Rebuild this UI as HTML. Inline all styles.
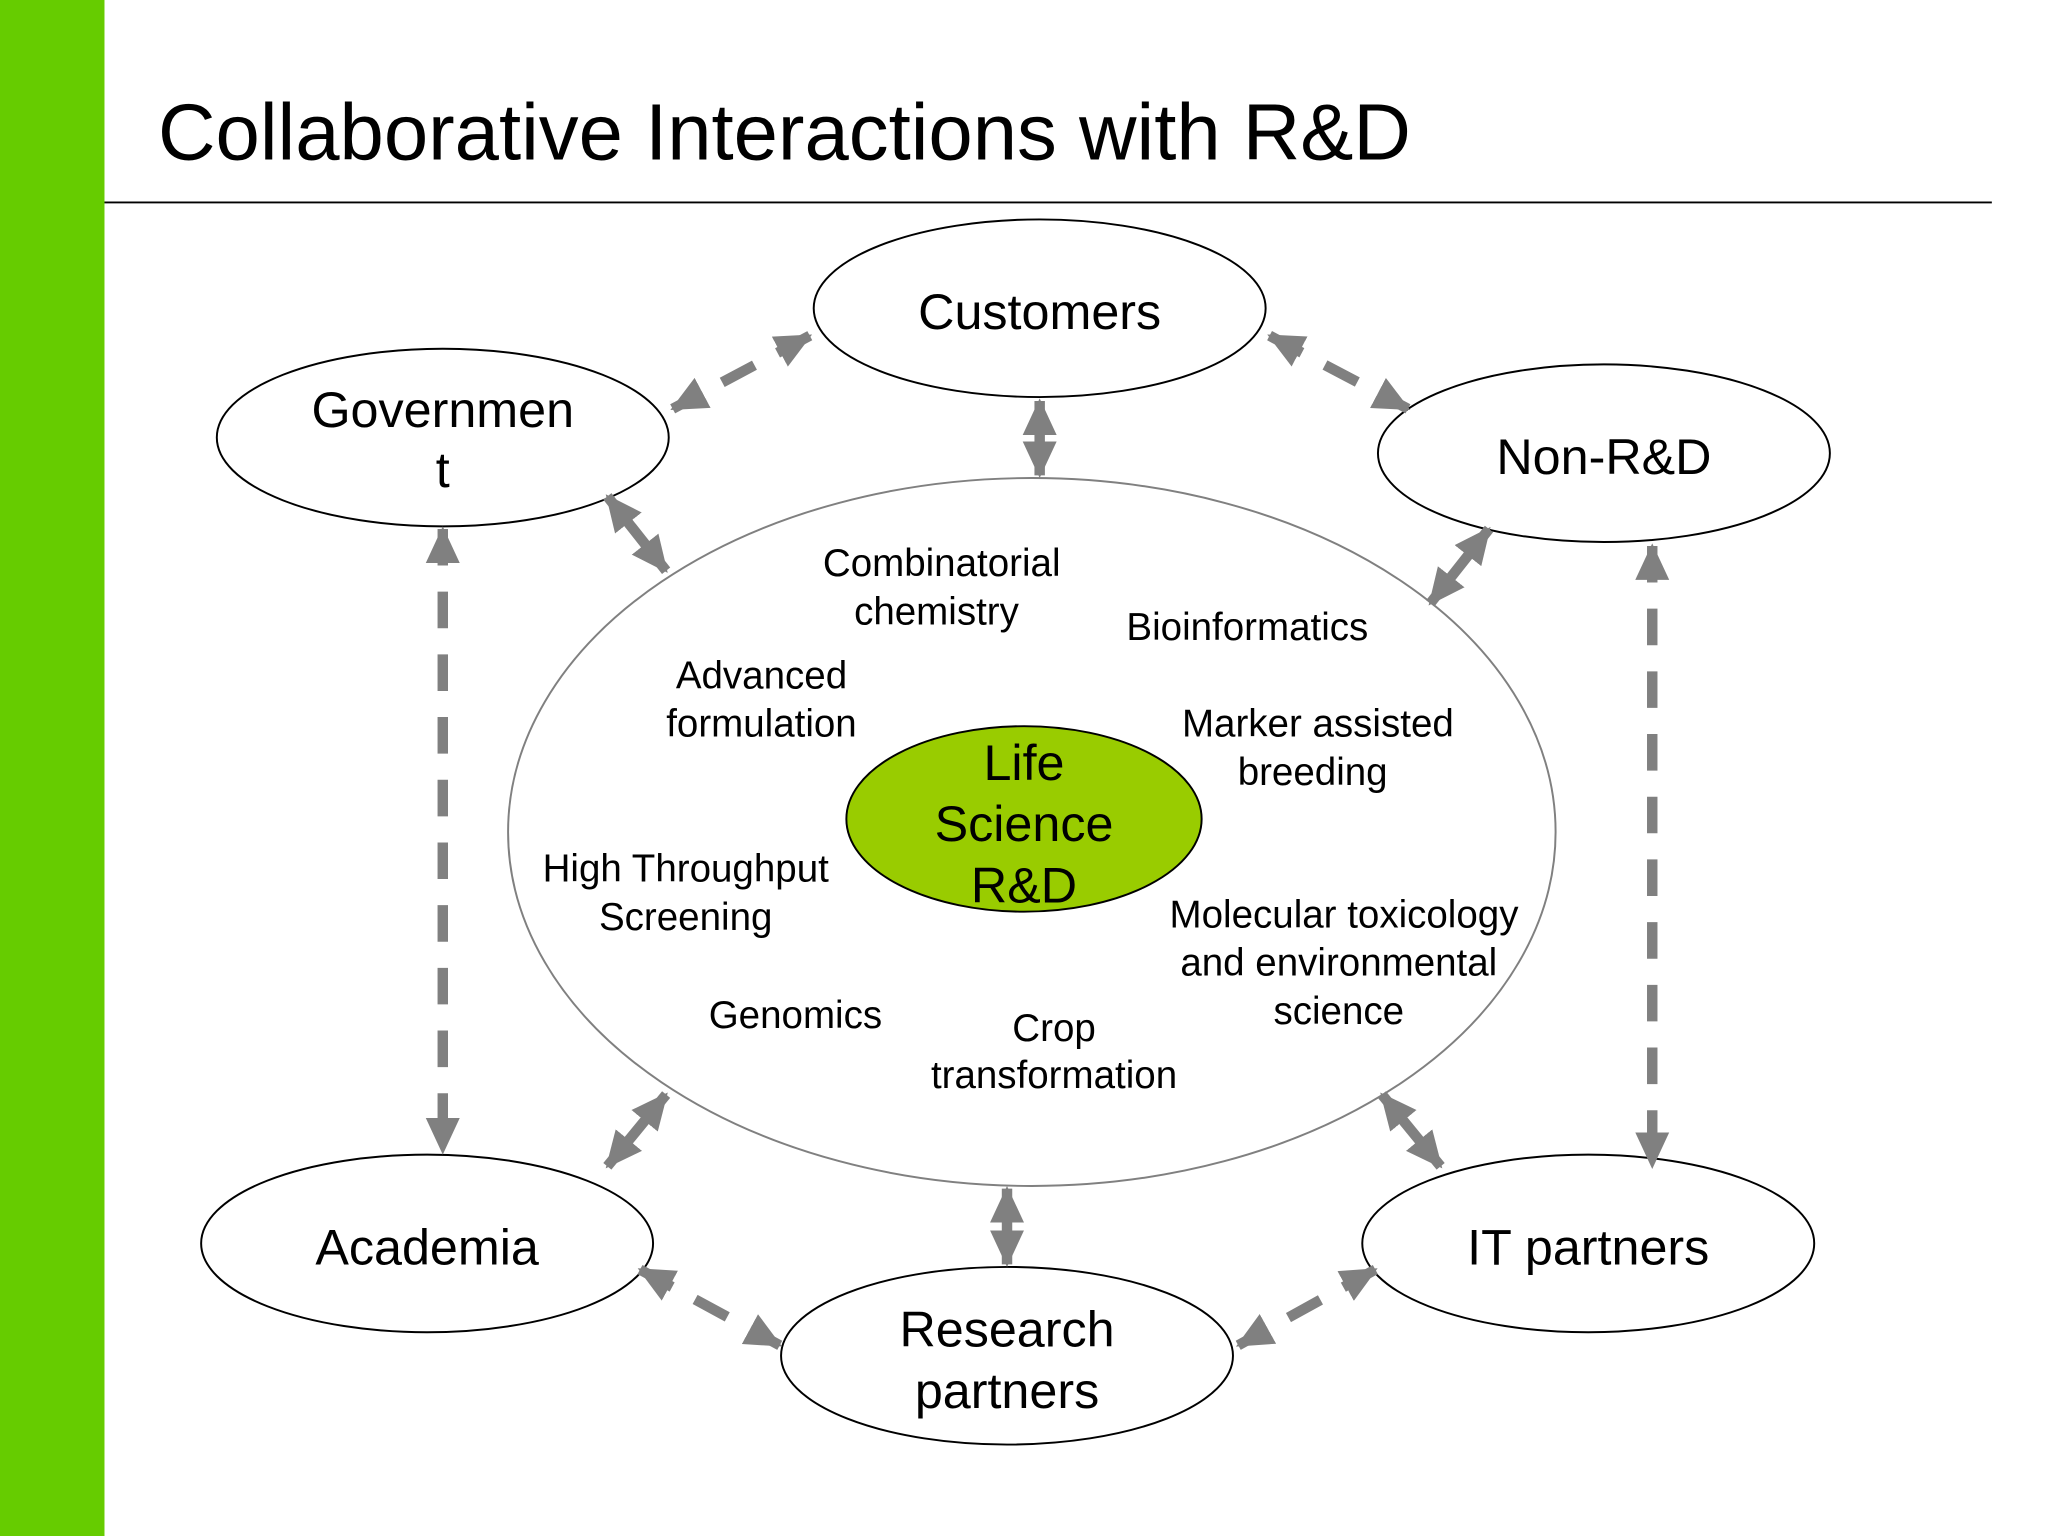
<!DOCTYPE html>
<html><head><meta charset="utf-8"><style>html,body{margin:0;padding:0;background:#fff}svg{display:block}</style></head>
<body>
<svg width="2048" height="1536" viewBox="0 0 1568 1176" preserveAspectRatio="none" xmlns="http://www.w3.org/2000/svg" font-family="Liberation Sans, sans-serif">
<defs>
<marker id="a" markerUnits="userSpaceOnUse" markerWidth="30" markerHeight="30" refX="26" refY="15" orient="auto-start-reverse" viewBox="0 0 30 30"><path d="M0,2 L28,15 L0,28 Z" fill="#808080"/></marker>
</defs>
<rect x="0" y="0" width="1568" height="1176" fill="#fff"/>
<rect x="0" y="0" width="80" height="1176" fill="#66cc00"/>
<text x="121" y="122" font-size="61" fill="#000">Collaborative Interactions with R&amp;D</text>
<line x1="80" y1="155" x2="1525" y2="155" stroke="#000" stroke-width="1.5"/>
<ellipse cx="790" cy="637" rx="401" ry="271" fill="none" stroke="#808080" stroke-width="1.5"/>
<ellipse cx="784" cy="627" rx="136" ry="71" fill="#99cc00" stroke="#000" stroke-width="1.5"/>
<g fill="#fff" stroke="#000" stroke-width="1.5">
<ellipse cx="796" cy="236" rx="173" ry="68"/>
<ellipse cx="339" cy="335" rx="173" ry="68"/>
<ellipse cx="1228" cy="347" rx="173" ry="68"/>
<ellipse cx="327" cy="952" rx="173" ry="68"/>
<ellipse cx="1216" cy="952" rx="173" ry="68"/>
<ellipse cx="771" cy="1038" rx="173" ry="68"/>
</g>
<g stroke="#808080" stroke-width="8" fill="none">
<line x1="796" y1="307" x2="796" y2="364" marker-start="url(#a)" marker-end="url(#a)"/>
<line x1="465" y1="380" x2="510" y2="437" marker-start="url(#a)" marker-end="url(#a)"/>
<line x1="1140" y1="405" x2="1095" y2="462" marker-start="url(#a)" marker-end="url(#a)"/>
<line x1="510" y1="838" x2="465" y2="893" marker-start="url(#a)" marker-end="url(#a)"/>
<line x1="1058" y1="838" x2="1103" y2="893" marker-start="url(#a)" marker-end="url(#a)"/>
<line x1="771" y1="910" x2="771" y2="968" marker-start="url(#a)" marker-end="url(#a)"/>
<g stroke-dasharray="28 20">
<line x1="620" y1="257" x2="515" y2="313" marker-start="url(#a)" marker-end="url(#a)"/>
<line x1="972" y1="257" x2="1078" y2="313" marker-start="url(#a)" marker-end="url(#a)"/>
<line x1="339" y1="405" x2="339" y2="882" marker-start="url(#a)" marker-end="url(#a)"/>
<line x1="1265" y1="418" x2="1265" y2="893" marker-start="url(#a)" marker-end="url(#a)"/>
<line x1="490" y1="972" x2="597" y2="1030" marker-start="url(#a)" marker-end="url(#a)"/>
<line x1="1053" y1="972" x2="948" y2="1030" marker-start="url(#a)" marker-end="url(#a)"/>
</g>
</g>
<g font-size="38.5" fill="#000" text-anchor="middle">
<text x="796" y="252">Customers</text>
<text x="339" y="327">Governmen</text>
<text x="339" y="373">t</text>
<text x="1228" y="363">Non-R&amp;D</text>
<text x="327" y="968">Academia</text>
<text x="1216" y="968">IT partners</text>
<text x="771" y="1031">Research</text>
<text x="771" y="1078">partners</text>
<text x="784" y="597">Life</text>
<text x="784" y="644">Science</text>
<text x="784" y="691">R&amp;D</text>
</g>
<g font-size="29.5" fill="#000" text-anchor="middle">
<text x="721" y="441">Combinatorial</text>
<text x="717" y="478">chemistry</text>
<text x="955" y="490">Bioinformatics</text>
<text x="583" y="527">Advanced</text>
<text x="583" y="564">formulation</text>
<text x="1009" y="564">Marker assisted</text>
<text x="1005" y="601">breeding</text>
<text x="525" y="675">High Throughput</text>
<text x="525" y="712">Screening</text>
<text x="1029" y="710">Molecular toxicology</text>
<text x="1025" y="747">and environmental</text>
<text x="1025" y="784">science</text>
<text x="609" y="787">Genomics</text>
<text x="807" y="797">Crop</text>
<text x="807" y="833">transformation</text>
</g>
</svg>
</body></html>
